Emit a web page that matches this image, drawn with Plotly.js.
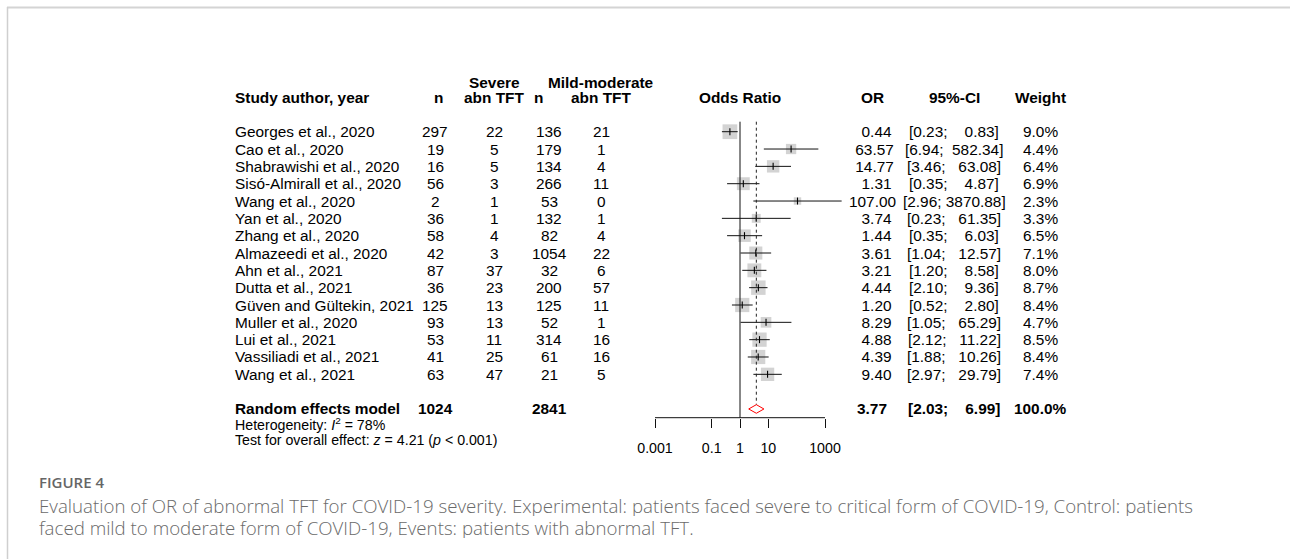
<!DOCTYPE html>
<html><head><meta charset="utf-8">
<script src="https://cdn.plot.ly/plotly-3.0.1.min.js"></script>
<style>html,body{margin:0;padding:0;background:#fff}#chart{width:1290px;height:559px}</style>
</head><body><div id="chart"></div>
<script>
// ---------- data ----------
const studies = ["Georges et al., 2020", "Cao et al., 2020", "Shabrawishi et al., 2020", "Sisó-Almirall et al., 2020", "Wang et al., 2020", "Yan et al., 2020", "Zhang et al., 2020", "Almazeedi et al., 2020", "Ahn et al., 2021", "Dutta et al., 2021", "Güven and Gültekin, 2021", "Muller et al., 2020", "Lui et al., 2021", "Vassiliadi et al., 2021", "Wang et al., 2021"];
const nSevere = [297, 19, 16, 56, 2, 36, 58, 42, 87, 36, 125, 93, 53, 41, 63];
const evSevere = [22, 5, 5, 3, 1, 1, 4, 3, 37, 23, 13, 13, 11, 25, 47];
const nMild = [136, 179, 134, 266, 53, 132, 82, 1054, 32, 200, 125, 52, 314, 61, 21];
const evMild = [21, 1, 4, 11, 0, 1, 4, 22, 6, 57, 11, 1, 16, 16, 5];
const oddsRatio = [0.44, 63.57, 14.77, 1.31, 107.00, 3.74, 1.44, 3.61, 3.21, 4.44, 1.20, 8.29, 4.88, 4.39, 9.40];
const ciLower = [0.23, 6.94, 3.46, 0.35, 2.96, 0.23, 0.35, 1.04, 1.20, 2.10, 0.52, 1.05, 2.12, 1.88, 2.97];
const ciUpper = [0.83, 582.34, 63.08, 4.87, 3870.88, 61.35, 6.03, 12.57, 8.58, 9.36, 2.80, 65.29, 11.22, 10.26, 29.79];
const weights = [9.0, 4.4, 6.4, 6.9, 2.3, 3.3, 6.5, 7.1, 8.0, 8.7, 8.4, 4.7, 8.5, 8.4, 7.4];
const pooledLabel = "Random effects model";
const pooledNSevere = 1024;
const pooledNMild = 2841;
const pooledOR = 3.77;
const pooledLower = 2.03;
const pooledUpper = 6.99;
const pooledWeight = 100.0;
const hetText = "Heterogeneity: <i>I</i><sup>2</sup> = 78%";
const testText = "Test for overall effect: <i>z</i> = 4.21 (<i>p</i> < 0.001)";
const tickVals = [0.001, 0.1, 1, 10, 1000];
const tickText = ["0.001", "0.1", "1", "10", "1000"];
const headers = {study: "Study author, year", n: "n", ev: "abn TFT", sev: "Severe", mild: "Mild-moderate", forest: "Odds Ratio", or: "OR", ci: "95%-CI", w: "Weight"};
const captionTitle = "FIGURE 4";
const captionLines = ["Evaluation of OR of abnormal TFT for COVID-19 severity. Experimental: patients faced severe to critical form of COVID-19, Control: patients", "faced mild to moderate form of COVID-19, Events: patients with abnormal TFT."];

// ---------- geometry ----------
const W = 1290, H = 559;
const ROW0 = 131.7, ROWH = 17.33;
const rowY = p => (p - ROW0) / ROWH;
const px = x => x / W;
const FONT = '"Liberation Sans", Arial, sans-serif';
const FS = 15.4, FS2 = 14.2;
const NB = '\u00A0';
const padL = (s, n) => NB.repeat(Math.max(0, n - s.length)) + s;

const idx = studies.map((_, i) => i);
const iPool = studies.length + 1;
const axisPx = 417.7;

const fmt2 = v => v.toFixed(2);
const orStr = oddsRatio.map(fmt2);
const orW = Math.max(...orStr.map(s => s.length));
const upStr = ciUpper.map(fmt2).concat([fmt2(pooledUpper)]);
const upW = Math.max(...upStr.map(s => s.length));
const ciStr = ciLower.map((l, i) => "[" + fmt2(l) + ";" + NB + padL(upStr[i], upW) + "]");
const ciPool = "[" + fmt2(pooledLower) + ";" + NB + padL(fmt2(pooledUpper), upW) + "]";

// ---------- traces ----------
const traces = [];
traces.push({ // boxes
  x: oddsRatio, y: idx, type: 'scatter', mode: 'markers', hoverinfo: 'skip',
  marker: {symbol: 'square', size: weights.map(w => 14.7 * Math.sqrt(w / 9.0)), color: '#c0c0c0', line: {width: 0}},
  cliponaxis: false
});
const ciX = [], ciY = [];
idx.forEach(i => { ciX.push(ciLower[i], ciUpper[i], null); ciY.push(i, i, null); });
traces.push({x: ciX, y: ciY, type: 'scatter', mode: 'lines', line: {color: '#111', width: 1}, hoverinfo: 'skip'});
traces.push({x: oddsRatio, y: idx, type: 'scatter', mode: 'markers', hoverinfo: 'skip', cliponaxis: false,
  marker: {symbol: 'line-ns-open', size: 5, color: '#000', line: {color: '#000', width: 1.1}}});
traces.push({x: [1, 1], y: [rowY(121.7), rowY(axisPx)], type: 'scatter', mode: 'lines', line: {color: '#111', width: 1}, hoverinfo: 'skip'});
const dh = 4.3 / ROWH;
traces.push({x: [pooledOR, pooledOR], y: [rowY(121.7), iPool - dh], type: 'scatter', mode: 'lines', line: {color: '#222', width: 1, dash: 'dot'}, hoverinfo: 'skip'});
traces.push({x: [pooledLower, pooledOR, pooledUpper, pooledOR, pooledLower], y: [iPool, iPool - dh, iPool, iPool + dh, iPool],
  type: 'scatter', mode: 'lines', line: {color: '#ff0000', width: 1}, hoverinfo: 'skip'});
traces.push({x: [tickVals[0], tickVals[tickVals.length - 1]], y: [rowY(axisPx), rowY(axisPx)], type: 'scatter', mode: 'lines', line: {color: '#111', width: 1}, hoverinfo: 'skip'});

// ---------- annotations ----------
const anns = [];
function ann(text, x, y, xanchor, opt) {
  opt = opt || {};
  const a = {text: text, x: px(x), y: y, xref: 'paper', yref: opt.yref || 'y', xanchor: xanchor, yanchor: 'middle',
    showarrow: false, font: {family: opt.family || FONT, size: opt.size || FS, color: opt.color || '#000', weight: opt.weight || 400}};
  if (opt.height) a.height = opt.height;
  anns.push(a);
}
const B = {weight: 700};
const colStudy = 233, colN1 = 435, colE1 = 494, colN2 = 549, colE2 = 601, colOR = 872, colCI = 954, colW = 1040;
const hY1 = rowY(82), hY2 = rowY(97.5);
ann(headers.study, colStudy, hY2, 'left', B);
ann(headers.n, 438, hY2, 'center', B);
ann(headers.sev, colE1, hY1, 'center', B);
ann(headers.ev, colE1, hY2, 'center', B);
ann(headers.n, 538, hY2, 'center', B);
ann(headers.mild, colE2, hY1, 'center', B);
ann(headers.ev, colE2, hY2, 'center', B);
ann(headers.forest, 740, hY2, 'center', B);
ann(headers.or, colOR, hY2, 'center', B);
ann(headers.ci, colCI, hY2, 'center', B);
ann(headers.w, colW, hY2, 'center', B);

idx.forEach(i => {
  ann(studies[i], colStudy, i, 'left');
  ann(String(nSevere[i]), colN1, i, 'center');
  ann(String(evSevere[i]), colE1, i, 'center');
  ann(String(nMild[i]), colN2, i, 'center');
  ann(String(evMild[i]), colE2, i, 'center');
  ann(padL(orStr[i], orW), colOR, i, 'center');
  ann(ciStr[i], colCI, i, 'center');
  ann(weights[i].toFixed(1) + '%', colW, i, 'center');
});
ann(pooledLabel, colStudy, iPool, 'left', B);
ann(String(pooledNSevere), colN1, iPool, 'center', B);
ann(String(pooledNMild), colN2, iPool, 'center', B);
ann(fmt2(pooledOR), colOR, iPool, 'center', B);
ann(ciPool, colCI, iPool, 'center', B);
ann(pooledWeight.toFixed(1) + '%', colW, iPool, 'center', B);
ann(hetText, colStudy, rowY(424), 'left', {size: FS2});
ann(testText, colStudy, rowY(439.5), 'left', {size: FS2});

// caption
const CF = '"Open Sans", "Noto Sans", sans-serif';
ann(captionTitle, 37, 1 - 482 / H, 'left', {yref: 'paper', family: CF, size: 15, color: '#666', weight: 600});
ann(captionLines[0], 37, 1 - 505 / H, 'left', {yref: 'paper', family: CF, size: 18.7, color: '#6a6a6a', weight: 300, height: 22});
ann(captionLines[1], 37, 1 - 527 / H, 'left', {yref: 'paper', family: CF, size: 18.7, color: '#6a6a6a', weight: 300, height: 22});

const layout = {
  width: W, height: H, margin: {l: 0, r: 0, t: 0, b: 0}, showlegend: false,
  paper_bgcolor: '#fff', plot_bgcolor: 'rgba(0,0,0,0)',
  xaxis: {type: 'log', range: [-3, 3.6], domain: [655 / W, (655 + 6.6 * (170 / 6)) / W], anchor: 'free', position: 1 - axisPx / H,
    tickmode: 'array', tickvals: tickVals, ticktext: tickText, ticks: 'outside', ticklen: 9, tickwidth: 1, tickcolor: '#111',
    ticklabelstandoff: 8,
    showline: false, showgrid: false, zeroline: false, tickfont: {family: FONT, size: FS2, color: '#000'}, fixedrange: true},
  yaxis: {range: [rowY(H), rowY(0)], domain: [0, 1], visible: false, fixedrange: true},
  annotations: anns,
  shapes: [
    {type: 'line', xref: 'paper', yref: 'paper', x0: px(7), x1: 1, y0: 1 - 7.5 / H, y1: 1 - 7.5 / H, line: {color: '#d4d4d4', width: 2}},
    {type: 'line', xref: 'paper', yref: 'paper', x0: px(7.5), x1: px(7.5), y0: 0, y1: 1 - 7 / H, line: {color: '#cfcfcf', width: 1.5}}
  ]
};
Plotly.newPlot('chart', traces, layout, {staticPlot: true, displayModeBar: false});
</script></body></html>
